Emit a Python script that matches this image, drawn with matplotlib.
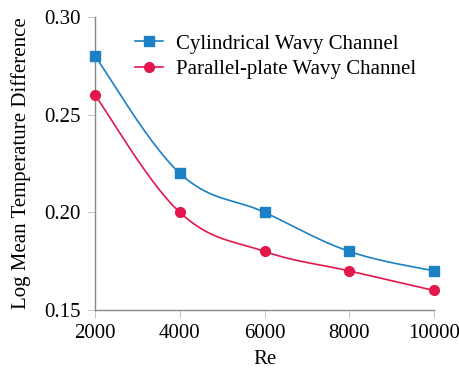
import numpy as np
import matplotlib.pyplot as plt

re_vals = [2000, 4000, 6000, 8000, 10000]
lmtd_cyl = [0.28, 0.22, 0.20, 0.18, 0.17]
lmtd_par = [0.26, 0.20, 0.18, 0.17, 0.16]
y_ticks = [0.15, 0.20, 0.25, 0.30]

BLUE = '#1b80c4'
RED = '#e3174b'
FS = 15


def smooth_curve(x, y, tension=0.55, n=40):
    # cardinal spline through the points, drawn as cubic bezier pieces
    x = np.asarray(x, float)
    y = np.asarray(y, float)
    pts = np.column_stack([x, y])
    out = []
    for i in range(len(pts) - 1):
        p0 = pts[max(i - 1, 0)]
        p1 = pts[i]
        p2 = pts[i + 1]
        p3 = pts[min(i + 2, len(pts) - 1)]
        c1 = p1 + (p2 - p0) * tension / 3.0
        c2 = p2 - (p3 - p1) * tension / 3.0
        t = np.linspace(0, 1, n)[:, None]
        seg = ((1 - t) ** 3) * p1 + 3 * ((1 - t) ** 2) * t * c1 + 3 * (1 - t) * t ** 2 * c2 + t ** 3 * p2
        out.append(seg if i == 0 else seg[1:])
    out = np.vstack(out)
    return out[:, 0], out[:, 1]


plt.rcParams['font.family'] = ['Liberation Serif', 'DejaVu Serif']

fig = plt.figure(figsize=(4.6, 3.71), dpi=100)
ax = fig.add_axes([0.2065, 0.1644, 0.737, 0.79])

ax.set_xlim(2000, 10000)
ax.set_ylim(0.15, 0.30)

for yv, col, mk, lab in [(lmtd_cyl, BLUE, 's', 'Cylindrical Wavy Channel'),
                         (lmtd_par, RED, 'o', 'Parallel-plate Wavy Channel')]:
    sx, sy = smooth_curve(re_vals, yv)
    ax.plot(sx, sy, color=col, lw=1.2, clip_on=False)
    ax.plot(re_vals, yv, ls='none', marker=mk, color=col, ms=7, clip_on=False, zorder=3)
    ax.plot([], [], color=col, lw=1.2, marker=mk, ms=7, label=lab)

ax.set_xticks(re_vals)
ax.set_yticks(y_ticks)
ax.set_yticklabels(['%.2f' % v for v in y_ticks])
ax.tick_params(direction='out', length=6, width=0.6, color='#bbbbbb', labelsize=FS, pad=4)

for side in ['top', 'right']:
    ax.spines[side].set_visible(False)
for side in ['left', 'bottom']:
    ax.spines[side].set_color('#888888')
    ax.spines[side].set_linewidth(1.0)

ax.set_xlabel('Re', fontsize=FS, labelpad=5)
ax.set_ylabel('Log Mean Temperature Difference', fontsize=FS, labelpad=10)

ax.legend(loc='upper left', bbox_to_anchor=(0.118, 0.942), frameon=False, fontsize=FS,
          handlelength=1.35, handletextpad=0.6, borderaxespad=0, borderpad=0,
          labelspacing=0.3)

fig.savefig('out.png', dpi=100)
